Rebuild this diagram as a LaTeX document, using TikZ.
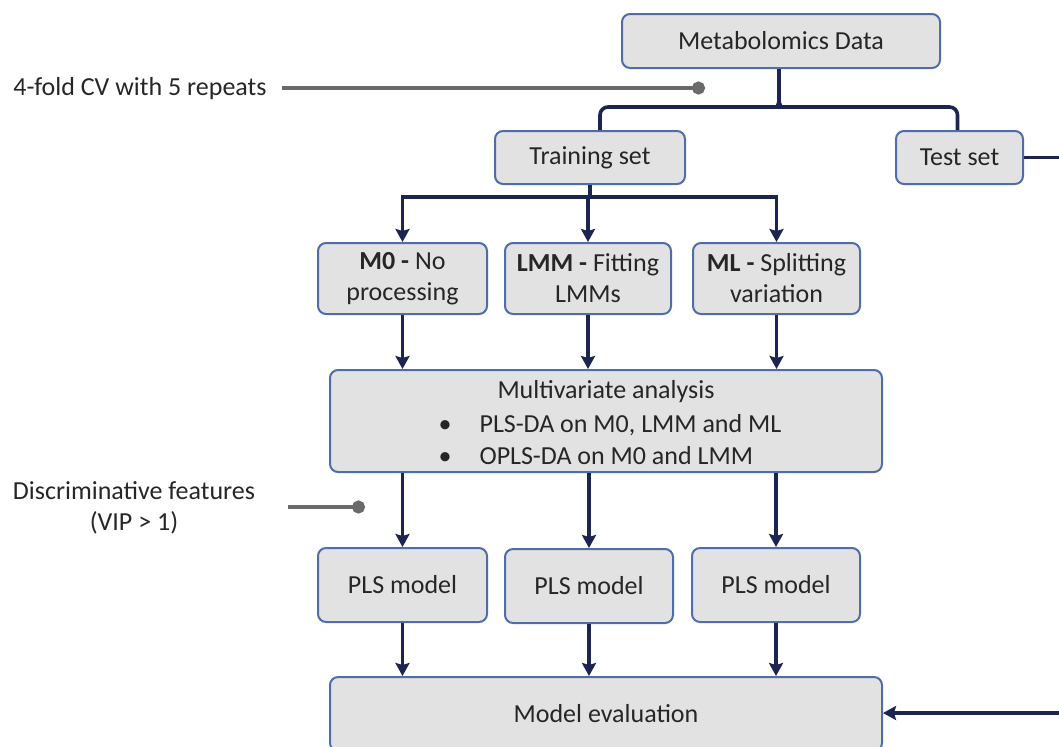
\documentclass[tikz,border=0pt]{standalone}
\usepackage{fontspec}
\setmainfont{Carlito}
\usepackage{tikz}
\usetikzlibrary{arrows.meta,positioning,calc}
\definecolor{flowFill}{HTML}{E2E2E2}
\definecolor{flowEdge}{HTML}{4F6DAA}
\definecolor{flowNavy}{HTML}{1C2452}
\definecolor{flowGrey}{HTML}{6A6A6A}
\definecolor{flowText}{HTML}{262626}
\tikzset{
  stagebox/.style={fill=flowFill,draw=flowEdge,line width=1pt,rounded corners=4pt,
                   inner sep=0pt,align=center,text=flowText},
  link/.style={draw=flowNavy,line width=1.8pt},
  arr/.style={link,-{Stealth[length=6.5pt,width=7pt,inset=1pt]}},
  note/.style={draw=flowGrey,line width=1.6pt,-{Circle[length=6.5pt]}},
  notetext/.style={inner sep=0pt,align=center,text=flowText}
}

\begin{document}
\begin{tikzpicture}[x=0.5pt,y=-0.5pt,font=\fontsize{13}{15.5}\selectfont]
\useasboundingbox (0,0) rectangle (1059,746);

% data and split
\node[stagebox,minimum width=159pt,minimum height=27pt] (meta) at (781,41) {Metabolomics Data};
\node[stagebox,minimum width=95pt,minimum height=26.5pt] (train) at (590,157.5) {Training set};
\node[stagebox,minimum width=63.5pt,minimum height=26.5pt] (test) at (959.5,157.5) {Test set};

% processing
\node[stagebox,minimum width=84.5pt,minimum height=35.5pt] (m0) at (402.5,278.5) {\textbf{M0 -} No\\processing};
\node[stagebox,minimum width=83pt,minimum height=35.5pt] (lmm) at (588,278.5) {\textbf{LMM -} Fitting\\LMMs};
\node[stagebox,minimum width=83.5pt,minimum height=35.5pt] (ml) at (776.5,278.5) {\textbf{ML -} Splitting\\variation};

% multivariate
\node[stagebox,minimum width=276pt,minimum height=51pt] (multi) at (606,421) {};
\node[notetext] (multititle) at (606,392) {Multivariate analysis};
\node[notetext,align=left] (multilist) at (610,440)
  {\textbullet\hspace{14pt}PLS-DA on M0, LMM and ML\\[0.5pt]
   \textbullet\hspace{14pt}OPLS-DA on M0 and LMM};

% models
\node[stagebox,minimum width=84.5pt,minimum height=37pt] (pls1) at (402.5,585) {PLS model};
\node[stagebox,minimum width=84pt,minimum height=37pt] (pls2) at (589,586) {PLS model};
\node[stagebox,minimum width=84pt,minimum height=37pt] (pls3) at (776,585) {PLS model};
\node[stagebox,minimum width=276pt,minimum height=37pt] (eval) at (606,714) {Model evaluation};

% side notes
\node[notetext] (cv) at (140,89) {4-fold CV with 5 repeats};
\node[notetext] (disc) at (134,508) {Discriminative features\\(VIP > 1)};
\coordinate (cvdot) at (705,88);
\coordinate (discdot) at (365,507);
\draw[note] ([xshift=7.5pt]cv.east |- cvdot) -- (cvdot);
\draw[note] (290,507 -| disc.east) ++(16.5pt,0) -- (discdot);

% connectors
\coordinate (brace) at (779,100);
\draw[link] (meta.south -| brace) -- (brace);
\draw[link,rounded corners=4pt] ([xshift=5pt]train.north) |- (769,107)
  .. controls (776,107) and (779,105) .. (brace);
\draw[link,rounded corners=4pt] ([xshift=-1pt]test.north) |- (789,107)
  .. controls (782,107) and (779,105) .. (brace);
\coordinate (fork) at (590,197);
\draw[link] (train.south) -- (fork);
\foreach \n in {m0,lmm,ml}
  \draw[arr] (fork) -| (\n.north);
\foreach \n in {m0,lmm,ml}
  \draw[arr] (\n.south) -- (\n.south |- multi.north);
\foreach \n in {pls1,pls2,pls3}
  \draw[arr] (multi.south -| \n) -- (\n.north);
\foreach \n in {pls1,pls2,pls3}
  \draw[arr] (\n.south) -- (\n.south |- eval.north);
\coordinate (testout) at (1059,157.5);
\coordinate (evalin) at (1059,713);
\draw[link] (test.east) -- (testout);
\draw[arr] (evalin) -- (eval.east |- evalin);
\end{tikzpicture}
\end{document}
